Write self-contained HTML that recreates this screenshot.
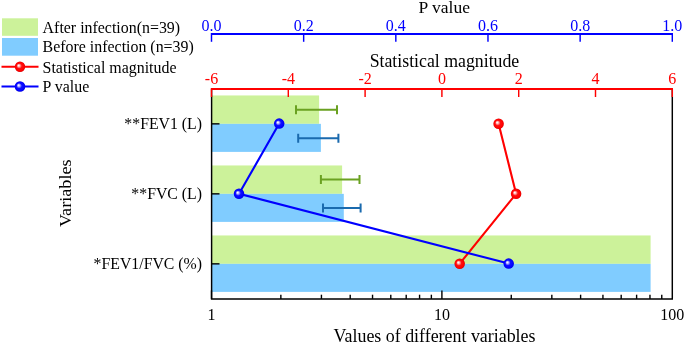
<!DOCTYPE html>
<html><head><meta charset="utf-8"><style>
html,body{margin:0;padding:0;background:#fff;width:685px;height:343px;overflow:hidden}
svg{display:block;font-family:"Liberation Serif",serif;will-change:transform}
</style></head><body>
<svg width="685" height="343" viewBox="0 0 685 343">
<defs>
<radialGradient id="gb" cx="0.5" cy="0.5" r="0.5" fx="0.35" fy="0.37">
<stop offset="0" stop-color="#FFFFFF"/><stop offset="0.12" stop-color="#EAEAFF"/><stop offset="0.3" stop-color="#8888FF"/><stop offset="0.5" stop-color="#1010FF"/><stop offset="0.85" stop-color="#0000FF"/><stop offset="1" stop-color="#0000DC"/></radialGradient>
<radialGradient id="gr" cx="0.5" cy="0.5" r="0.5" fx="0.35" fy="0.37">
<stop offset="0" stop-color="#FFFFFF"/><stop offset="0.12" stop-color="#FFEAEA"/><stop offset="0.3" stop-color="#FF8888"/><stop offset="0.5" stop-color="#FF1010"/><stop offset="0.85" stop-color="#FF0000"/><stop offset="1" stop-color="#DC0000"/></radialGradient>
</defs>
<rect x="211.5" y="95.44999999999999" width="107.60000000000002" height="28.4" fill="#CCF29A"/>
<rect x="211.5" y="123.85" width="109.39999999999998" height="28.05" fill="#80CCFF"/>
<rect x="211.5" y="165.45" width="130.60000000000002" height="28.4" fill="#CCF29A"/>
<rect x="211.5" y="193.85" width="132.3" height="28.05" fill="#80CCFF"/>
<rect x="211.5" y="235.45000000000002" width="439.1" height="28.4" fill="#CCF29A"/>
<rect x="211.5" y="263.85" width="439.1" height="28.05" fill="#80CCFF"/>
<path d="M296 109.7H337M296 105.2V114.2M337 105.2V114.2" stroke="#6AA121" stroke-width="2" fill="none"/>
<path d="M298.2 138.2H338.4M298.2 133.7V142.7M338.4 133.7V142.7" stroke="#1A6AAE" stroke-width="2" fill="none"/>
<path d="M320.9 179.6H359.5M320.9 175.1V184.1M359.5 175.1V184.1" stroke="#6AA121" stroke-width="2" fill="none"/>
<path d="M323 208.1H360.6M323 203.6V212.6M360.6 203.6V212.6" stroke="#1A6AAE" stroke-width="2" fill="none"/>
<path d="M211.6 89V298.9H672.3V89" stroke="#000" stroke-width="1.45" fill="none"/>
<path d="M211.5 123.85H219.5" stroke="#000" stroke-width="1.4"/>
<path d="M211.5 193.85H219.5" stroke="#000" stroke-width="1.4"/>
<path d="M211.5 263.85H219.5" stroke="#000" stroke-width="1.4"/>
<path d="M211.50 298.9V290.4" stroke="#000" stroke-width="1.4"/>
<path d="M280.86 298.9V294.7" stroke="#000" stroke-width="1.4"/>
<path d="M321.43 298.9V294.7" stroke="#000" stroke-width="1.4"/>
<path d="M350.21 298.9V294.7" stroke="#000" stroke-width="1.4"/>
<path d="M372.54 298.9V294.7" stroke="#000" stroke-width="1.4"/>
<path d="M390.79 298.9V294.7" stroke="#000" stroke-width="1.4"/>
<path d="M406.21 298.9V294.7" stroke="#000" stroke-width="1.4"/>
<path d="M419.57 298.9V294.7" stroke="#000" stroke-width="1.4"/>
<path d="M431.36 298.9V294.7" stroke="#000" stroke-width="1.4"/>
<path d="M441.90 298.9V290.4" stroke="#000" stroke-width="1.4"/>
<path d="M511.26 298.9V294.7" stroke="#000" stroke-width="1.4"/>
<path d="M551.83 298.9V294.7" stroke="#000" stroke-width="1.4"/>
<path d="M580.61 298.9V294.7" stroke="#000" stroke-width="1.4"/>
<path d="M602.94 298.9V294.7" stroke="#000" stroke-width="1.4"/>
<path d="M621.19 298.9V294.7" stroke="#000" stroke-width="1.4"/>
<path d="M636.61 298.9V294.7" stroke="#000" stroke-width="1.4"/>
<path d="M649.97 298.9V294.7" stroke="#000" stroke-width="1.4"/>
<path d="M661.76 298.9V294.7" stroke="#000" stroke-width="1.4"/>
<path d="M211.5 34H672.3" stroke="#0000FF" stroke-width="2" fill="none"/>
<path d="M211.50 33V41.8" stroke="#0000FF" stroke-width="1.45"/>
<text x="211.50" y="30.8" fill="#0000FF" font-size="16" text-anchor="middle">0.0</text>
<path d="M303.66 33V41.8" stroke="#0000FF" stroke-width="1.45"/>
<text x="303.66" y="30.8" fill="#0000FF" font-size="16" text-anchor="middle">0.2</text>
<path d="M395.82 33V41.8" stroke="#0000FF" stroke-width="1.45"/>
<text x="395.82" y="30.8" fill="#0000FF" font-size="16" text-anchor="middle">0.4</text>
<path d="M487.98 33V41.8" stroke="#0000FF" stroke-width="1.45"/>
<text x="487.98" y="30.8" fill="#0000FF" font-size="16" text-anchor="middle">0.6</text>
<path d="M580.14 33V41.8" stroke="#0000FF" stroke-width="1.45"/>
<text x="580.14" y="30.8" fill="#0000FF" font-size="16" text-anchor="middle">0.8</text>
<path d="M672.30 33V41.8" stroke="#0000FF" stroke-width="1.45"/>
<text x="672.30" y="30.8" fill="#0000FF" font-size="16" text-anchor="middle">1.0</text>
<text x="444.3" y="12.8" fill="#000" font-size="17.5" text-anchor="middle">P value</text>
<path d="M211.5 89H672.3" stroke="#FF0000" stroke-width="2" fill="none"/>
<path d="M211.50 88V97" stroke="#FF0000" stroke-width="1.45"/>
<text x="211.50" y="84.3" fill="#FF0000" font-size="16" text-anchor="middle">-6</text>
<path d="M288.30 88V97" stroke="#FF0000" stroke-width="1.45"/>
<text x="288.30" y="84.3" fill="#FF0000" font-size="16" text-anchor="middle">-4</text>
<path d="M365.10 88V97" stroke="#FF0000" stroke-width="1.45"/>
<text x="365.10" y="84.3" fill="#FF0000" font-size="16" text-anchor="middle">-2</text>
<path d="M441.90 88V97" stroke="#FF0000" stroke-width="1.45"/>
<text x="441.90" y="84.3" fill="#FF0000" font-size="16" text-anchor="middle">0</text>
<path d="M518.70 88V97" stroke="#FF0000" stroke-width="1.45"/>
<text x="518.70" y="84.3" fill="#FF0000" font-size="16" text-anchor="middle">2</text>
<path d="M595.50 88V97" stroke="#FF0000" stroke-width="1.45"/>
<text x="595.50" y="84.3" fill="#FF0000" font-size="16" text-anchor="middle">4</text>
<path d="M672.30 88V97" stroke="#FF0000" stroke-width="1.45"/>
<text x="672.30" y="84.3" fill="#FF0000" font-size="16" text-anchor="middle">6</text>
<text x="444.45" y="66.6" fill="#000" font-size="17.8" text-anchor="middle">Statistical magnitude</text>
<text x="211.50" y="319.5" fill="#000" font-size="16" text-anchor="middle">1</text>
<text x="441.90" y="319.5" fill="#000" font-size="16" text-anchor="middle">10</text>
<text x="672.30" y="319.5" fill="#000" font-size="16" text-anchor="middle">100</text>
<text x="434.55" y="342.4" fill="#000" font-size="17.9" text-anchor="middle">Values of different variables</text>
<text x="202" y="128.85" fill="#000" font-size="15.8" text-anchor="end">**FEV1 (L)</text>
<text x="202" y="198.85" fill="#000" font-size="15.8" text-anchor="end">**FVC (L)</text>
<text x="202" y="268.85" fill="#000" font-size="15.8" text-anchor="end">*FEV1/FVC (%)</text>
<text transform="translate(70.6 193.2) rotate(-90) scale(1.15 1)" x="0" y="0" fill="#000" font-size="15.8" text-anchor="middle">Variables</text>
<polyline points="498.6,123.7 516.1,193.8 459.7,263.7" stroke="#FF0000" stroke-width="2.1" fill="none"/>
<circle cx="498.6" cy="123.7" r="5.25" fill="url(#gr)"/>
<circle cx="516.1" cy="193.8" r="5.25" fill="url(#gr)"/>
<circle cx="459.7" cy="263.7" r="5.25" fill="url(#gr)"/>
<polyline points="279.2,123.6 239,193.8 508.7,263.6" stroke="#0000FF" stroke-width="2.1" fill="none"/>
<circle cx="279.2" cy="123.6" r="5.25" fill="url(#gb)"/>
<circle cx="239" cy="193.8" r="5.25" fill="url(#gb)"/>
<circle cx="508.7" cy="263.6" r="5.25" fill="url(#gb)"/>
<rect x="2" y="18.3" width="36" height="17.5" fill="#CCF29A"/>
<rect x="2" y="38" width="36" height="17.7" fill="#80CCFF"/>
<path d="M1.5 66.8H38.5" stroke="#FF0000" stroke-width="2"/>
<circle cx="20" cy="66.7" r="5.2" fill="url(#gr)"/>
<path d="M1.5 86.4H38.5" stroke="#0000FF" stroke-width="2"/>
<circle cx="20" cy="86.5" r="5.3" fill="url(#gb)"/>
<text x="42.6" y="32.8" fill="#000" font-size="15.92">After infection(n=39)</text>
<text x="42.6" y="52" fill="#000" font-size="15.92">Before infection (n=39)</text>
<text x="42.6" y="72.7" fill="#000" font-size="15.92">Statistical magnitude</text>
<text x="42.6" y="92.1" fill="#000" font-size="15.92">P value</text>
</svg>
</body></html>
